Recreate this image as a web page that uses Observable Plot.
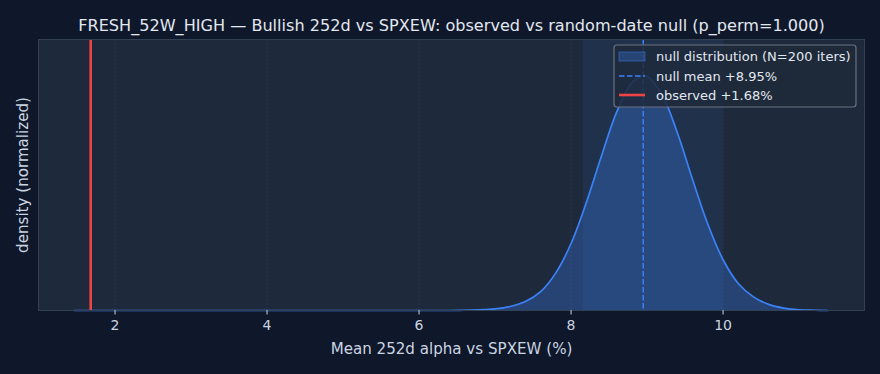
<!DOCTYPE html>
<html><head><meta charset="utf-8">
<script src="https://cdn.jsdelivr.net/npm/d3@7"></script>
<script src="https://cdn.jsdelivr.net/npm/@observablehq/plot@0.6"></script>
<style>
html,body{margin:0;padding:0;background:#0f172a;}
svg{display:block;}
</style></head><body><div id="chart"></div>
<script>
// ---- data ----
const titleText = "FRESH_52W_HIGH — Bullish 252d vs SPXEW: observed vs random-date null (p_perm=1.000)";
const xLabel = "Mean 252d alpha vs SPXEW (%)";
const yLabel = "density (normalized)";
const densityX = [1.47, 3.0, 5.0, 6.0, 6.4, 6.6, 6.8, 7.0, 7.2, 7.4, 7.6, 7.8, 8.0, 8.2, 8.4, 8.6, 8.8, 8.95, 9.0, 9.2, 9.4, 9.6, 9.8, 10.0, 10.2, 10.4, 10.6, 10.8, 11.0, 11.2, 11.38];
const densityY = [0.0, 0.0, 0.0, 0.0, 0.0, 0.001, 0.003, 0.007, 0.017, 0.038, 0.080, 0.160, 0.285, 0.458, 0.657, 0.844, 0.969, 1.0, 0.997, 0.917, 0.755, 0.556, 0.367, 0.216, 0.115, 0.058, 0.026, 0.010, 0.003, 0.001, 0.0];
const nullMean = 8.95;
const observed = 1.68;
const bandRange = [8.16, 10.0];
const xTicks = [2, 4, 6, 8, 10];
const legendLabels = ["null distribution (N=200 iters)", "null mean +8.95%", "observed +1.68%"];

const density = densityX.map((x, i) => ({x, y: densityY[i]}));
const band = [{x1: bandRange[0], x2: bandRange[1]}];

const blue = "#3b82f6", red = "#ef4444";
const yMax = 1.153;

const plot = Plot.plot({
  width: 880, height: 374,
  marginLeft: 38, marginRight: 16, marginTop: 39, marginBottom: 64,
  style: {background: "#0f172a", color: "#cbd5e1", fontFamily: "'DejaVu Sans', sans-serif", fontSize: "14px"},
  x: {domain: [0.993, 11.861], ticks: xTicks, tickFormat: d => String(d)},
  y: {domain: [0, yMax], axis: null},
  marks: [
    Plot.frame({fill: "#1e293b"}),
    Plot.ruleX(xTicks, {stroke: "#94a3b8", strokeOpacity: 0.12, strokeDasharray: "2,2"}),
    Plot.rect(band, {x1: "x1", x2: "x2", y1: 0, y2: yMax, fill: blue, fillOpacity: 0.09}),
    Plot.areaY(density, {x: "x", y: "y", fill: blue, fillOpacity: 0.3, curve: "catmull-rom"}),
    Plot.lineY(density, {x: "x", y: "y", stroke: blue, strokeWidth: 1.7, curve: "catmull-rom"}),
    Plot.ruleX([nullMean], {stroke: blue, strokeWidth: 1.5, strokeDasharray: "5.5,2.5"}),
    Plot.ruleX([observed], {stroke: red, strokeWidth: 2.6}),
    Plot.frame({stroke: "#334155"}),
    Plot.axisX({ticks: xTicks, tickSize: 4.5, tickPadding: 5, stroke: "#cbd5e1", fill: "#cbd5e1", label: null, fontSize: 14, tickFormat: d => String(d)}),
    Plot.text([xLabel], {frameAnchor: "bottom", dy: 39, lineAnchor: "middle", fill: "#cbd5e1", fontSize: 15.1}),
    Plot.text([yLabel], {frameAnchor: "left", dx: -15, rotate: -90, textAnchor: "middle", lineAnchor: "middle", fill: "#cbd5e1", fontSize: 15.1}),
    Plot.text([titleText], {frameAnchor: "top", dy: -14, lineAnchor: "middle", fill: "#e2e8f0", fontSize: 16.1})
  ]
});
document.getElementById("chart").appendChild(plot);

// legend
const svg = d3.select(plot);
const lg = svg.append("g").attr("font-family", "'DejaVu Sans', sans-serif").attr("font-size", 13).attr("text-anchor", "start");
lg.append("rect").attr("x", 614).attr("y", 45).attr("width", 242).attr("height", 62).attr("rx", 3)
  .attr("fill", "#1e293b").attr("fill-opacity", 0.85).attr("stroke", "#6b7280").attr("stroke-width", 1.2);
const rowY = [56.5, 76, 95];
lg.append("rect").attr("x", 619).attr("y", rowY[0] - 4.5).attr("width", 26).attr("height", 9)
  .attr("fill", blue).attr("fill-opacity", 0.3).attr("stroke", blue).attr("stroke-opacity", 0.5);
lg.append("line").attr("x1", 619).attr("x2", 645).attr("y1", rowY[1]).attr("y2", rowY[1])
  .attr("stroke", blue).attr("stroke-width", 1.5).attr("stroke-dasharray", "5.5,2.5");
lg.append("line").attr("x1", 619).attr("x2", 645).attr("y1", rowY[2]).attr("y2", rowY[2])
  .attr("stroke", red).attr("stroke-width", 2.6);
legendLabels.forEach((t, i) => {
  lg.append("text").attr("x", 656).attr("y", rowY[i]).attr("dy", "0.35em").attr("text-anchor", "start").attr("fill", "#e2e8f0").text(t);
});
</script></body></html>
